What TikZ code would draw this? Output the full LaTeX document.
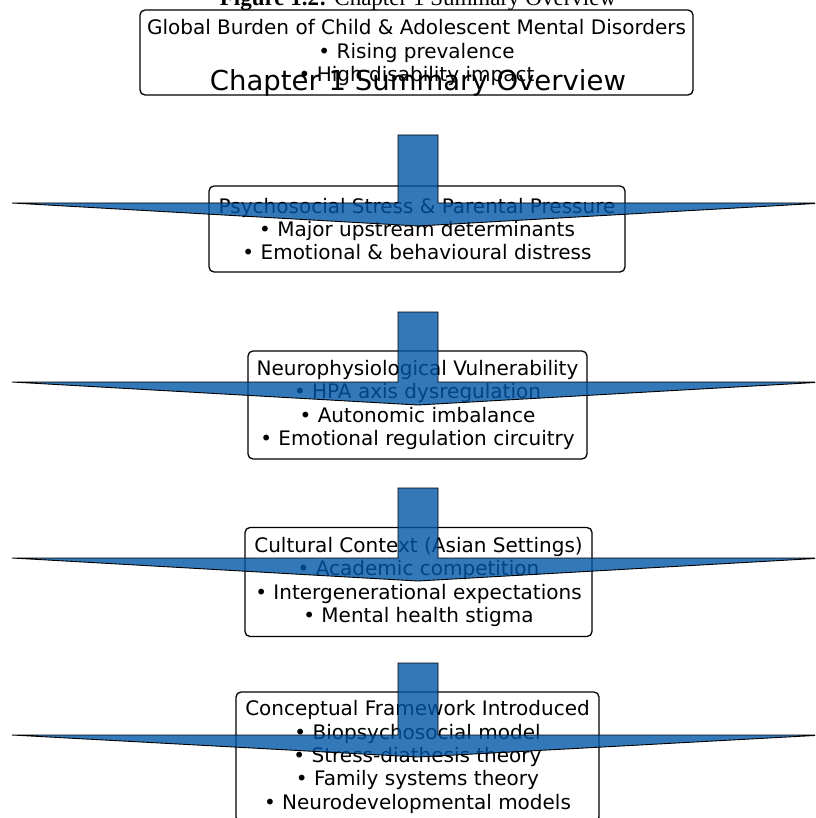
\documentclass[tikz,border=0pt]{standalone}
\usepackage{fontspec}
\setsansfont{DejaVu Sans}
\newfontfamily\capfont{Liberation Serif}
\usepackage{xcolor}
\usepackage{tikz}
\definecolor{arrowblue}{RGB}{0,86,167}

\tikzset{
	sumbox/.style={draw, rounded corners=5pt, line width=1.3pt, align=center,
		font=\sffamily\fontsize{20}{23.3}\selectfont, inner sep=0pt},
	bigarrow/.style={fill=arrowblue, fill opacity=0.8, draw=black, line width=0.9pt, line join=miter}
}

\begin{document}
\begin{tikzpicture}[x=1pt, y=-1pt]
	\clip (0,0) rectangle (815,818);
	\node[anchor=base, font=\capfont\fontsize{23}{26}\selectfont] (cap) at (418,6){\textbf{Figure 1.2:} Chapter 1 Summary Overview};
	\node[sumbox, minimum width=553pt, minimum height=85pt] (burden) at (416.5,52.5){Global Burden of Child \& Adolescent Mental Disorders\\ • Rising prevalence\\ • High disability impact};
	\node[anchor=base, font=\sffamily\fontsize{27.5}{30}\selectfont] (title) at (418,91){Chapter 1 Summary Overview};
	\node[sumbox, minimum width=416pt, minimum height=86pt] (stress) at (417,229){Psychosocial Stress \& Parental Pressure\\ • Major upstream determinants\\ • Emotional \& behavioural distress};
	\node[sumbox, minimum width=339pt, minimum height=108pt] (neuro) at (417.5,405){Neurophysiological Vulnerability\\ • HPA axis dysregulation\\ • Autonomic imbalance\\ • Emotional regulation circuitry};
	\node[sumbox, minimum width=347pt, minimum height=109pt] (culture) at (418.5,582){Cultural Context (Asian Settings)\\ • Academic competition\\ • Intergenerational expectations\\ • Mental health stigma};
	\node[sumbox, minimum width=363pt, minimum height=130pt] (frame) at (417.5,757){Conceptual Framework Introduced\\ • Biopsychosocial model\\ • Stress-diathesis theory\\ • Family systems theory\\ • Neurodevelopmental models};
	\coordinate (a1) at (418,135);
	\coordinate (t1) at (418,226);
	\coordinate (a2) at (418,312);
	\coordinate (t2) at (418,405);
	\coordinate (a3) at (418,488);
	\coordinate (t3) at (418,581);
	\coordinate (a4) at (418,663);
	\coordinate (t4) at (418,757);
	\draw[bigarrow] (a1) ++(-20,0) -- ++(0,68) -- ++(-386,0) -- (t1) -- ++(406,-23) -- ++(-386,0) -- ++(0,-68) -- cycle;
	\draw[bigarrow] (a2) ++(-20,0) -- ++(0,70) -- ++(-386,0) -- (t2) -- ++(406,-23) -- ++(-386,0) -- ++(0,-70) -- cycle;
	\draw[bigarrow] (a3) ++(-20,0) -- ++(0,70) -- ++(-386,0) -- (t3) -- ++(406,-23) -- ++(-386,0) -- ++(0,-70) -- cycle;
	\draw[bigarrow] (a4) ++(-20,0) -- ++(0,72) -- ++(-386,0) -- (t4) -- ++(406,-22) -- ++(-386,0) -- ++(0,-72) -- cycle;
\end{tikzpicture}
\end{document}
